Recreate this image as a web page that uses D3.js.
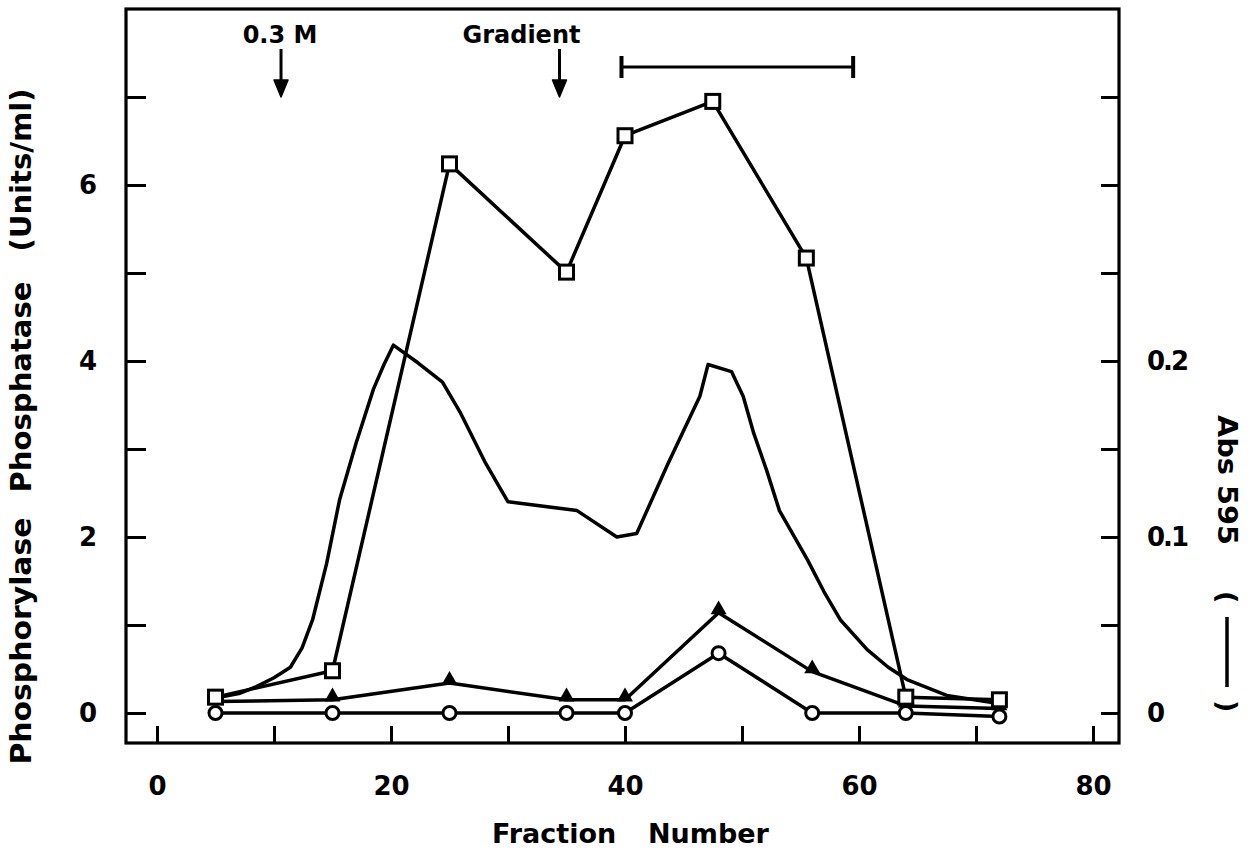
<!DOCTYPE html>
<html>
<head>
<meta charset="utf-8">
<script src="https://cdn.jsdelivr.net/npm/d3@7"></script>
<style>
  html, body { margin: 0; padding: 0; background: #fff; }
  svg text { font-family: "DejaVu Sans", "Liberation Sans", Arial, sans-serif; font-weight: bold; fill: #000; }
</style>
</head>
<body>
<svg id="chart" width="1251" height="856"></svg>
<script>
// Fractions sampled for phosphatase activity
const fractions = [5, 15, 25, 35, 40, 48, 56, 64, 72];
const squareFractions = [5, 15, 25, 35, 40, 47.5, 55.5, 64, 72];
// Phosphorylase phosphatase activity (Units/ml)
const squareValues = [0.18, 0.48, 6.24, 5.01, 6.56, 6.95, 5.17, 0.18, 0.15];
const triangleValues = [0.13, 0.15, 0.34, 0.15, 0.15, 1.14, 0.47, 0.08, 0.05];
const circleValues = [0.0, 0.0, 0.0, 0.0, 0.0, 0.68, 0.0, 0.0, -0.04];
// Protein profile, absorbance at 595 nm (continuous trace)
const absFractions = [5.0, 7.0, 8.5, 10.0, 11.4, 12.4, 13.3, 14.5, 15.6, 17.0, 18.5, 19.4, 20.2, 22.3, 24.4, 25.9, 28.0, 30.0, 35.9, 39.3, 41.0, 43.7, 46.4, 47.1, 49.1, 50.1, 51.0, 52.1, 53.2, 55.6, 57.0, 58.4, 60.7, 62.5, 64.1, 67.5, 71.8];
const absValues = [0.0085, 0.011, 0.015, 0.020, 0.026, 0.037, 0.053, 0.085, 0.121, 0.153, 0.184, 0.198, 0.209, 0.199, 0.188, 0.171, 0.143, 0.120, 0.115, 0.100, 0.102, 0.142, 0.180, 0.198, 0.194, 0.180, 0.159, 0.138, 0.115, 0.087, 0.069, 0.053, 0.036, 0.026, 0.019, 0.010, 0.0055];
// Axis ticks
const xTicks = [0, 10, 20, 30, 40, 50, 60, 70, 80];
const xTickLabels = ["0", "", "20", "", "40", "", "60", "", "80"];
const yTicks = [0, 1, 2, 3, 4, 5, 6, 7];
const yTickLabels = ["0", "", "2", "", "4", "", "6", ""];
const y2Ticks = [0, 0.05, 0.1, 0.15, 0.2, 0.25, 0.3, 0.35];
const y2TickLabels = ["0", "", "0.1", "", "0.2", "", "", ""];
// Annotations
const arrowNotes = [{ label: "0.3 M", at: 10.6 }, { label: "Gradient", at: 34.4 }];
const poolRange = [39.7, 59.5];

const svg = d3.select("#chart");
const frame = { left: 126, right: 1119, top: 9, bottom: 743 };

const x = d3.scaleLinear().domain([0, 80]).range([157, 1093]);
const y = d3.scaleLinear().domain([0, 8]).range([713, 9]);
const y2 = d3.scaleLinear().domain([0, 0.4]).range([713, 9]);

// frame
svg.append("rect")
  .attr("x", frame.left).attr("y", frame.top)
  .attr("width", frame.right - frame.left).attr("height", frame.bottom - frame.top)
  .attr("fill", "none").attr("stroke", "#000").attr("stroke-width", 3.2);

const fontSize = 26;

// bottom axis
const gx = svg.append("g").attr("transform", `translate(0,${frame.bottom})`)
  .call(d3.axisBottom(x).tickValues(xTicks).tickSizeInner(-17).tickSizeOuter(0)
    .tickPadding(0).tickFormat((d, i) => xTickLabels[i]));
gx.select(".domain").remove();
gx.selectAll("line").attr("stroke", "#000").attr("stroke-width", 3);
gx.selectAll("text").attr("font-size", fontSize).attr("dy", null).attr("y", 52).attr("font-family", null);

// left axis
const gy = svg.append("g").attr("transform", `translate(${frame.left},0)`)
  .call(d3.axisLeft(y).tickValues(yTicks).tickSizeInner(-20).tickSizeOuter(0)
    .tickFormat((d, i) => yTickLabels[i]));
gy.select(".domain").remove();
gy.selectAll("line").attr("stroke", "#000").attr("stroke-width", 3);
gy.selectAll("text").attr("font-size", fontSize).attr("x", -38).attr("text-anchor", "middle").attr("font-family", null);

// right axis
const gy2 = svg.append("g").attr("transform", `translate(${frame.right},0)`)
  .call(d3.axisRight(y2).tickValues(y2Ticks).tickSizeInner(-18).tickSizeOuter(0)
    .tickFormat((d, i) => y2TickLabels[i]));
gy2.select(".domain").remove();
gy2.selectAll("line").attr("stroke", "#000").attr("stroke-width", 3);
gy2.selectAll("text").attr("font-size", fontSize).attr("x", 28).attr("text-anchor", "start")
  .attr("letter-spacing", -2).attr("font-family", null);

// left axis title, three words set with equal type size
const leftTitle = [
  { text: "Phosphorylase", center: 641, len: 247 },
  { text: "Phosphatase", center: 387, len: 211 },
  { text: "(Units/ml)", center: 170, len: 163 }
];
leftTitle.forEach(t => {
  svg.append("text")
    .attr("transform", `translate(31,${t.center}) rotate(-90)`)
    .attr("text-anchor", "middle").attr("font-size", 28)
    .attr("textLength", t.len).attr("lengthAdjust", "spacingAndGlyphs")
    .text(t.text);
});

// bottom axis title
svg.append("text").attr("x", 492).attr("y", 843).attr("font-size", 27).text("Fraction");
svg.append("text").attr("x", 648).attr("y", 843).attr("font-size", 27).text("Number");

// right axis title
const rt = svg.append("g").attr("transform", "translate(1218,415) rotate(90)");
rt.append("text").attr("x", 0).attr("y", 0).attr("font-size", 27)
  .attr("textLength", 130).attr("lengthAdjust", "spacingAndGlyphs").text("Abs 595");
rt.append("text").attr("x", 176).attr("y", 0).attr("font-size", 27).text("(");
rt.append("text").attr("x", 285).attr("y", 0).attr("font-size", 27).text(")");
rt.append("line").attr("x1", 202).attr("x2", 272).attr("y1", -9).attr("y2", -9)
  .attr("stroke", "#000").attr("stroke-width", 3.5);

// protein trace
const absLine = d3.line().x(d => x(d[0])).y(d => y2(d[1])).curve(d3.curveLinear);
svg.append("path")
  .datum(absFractions.map((f, i) => [f, absValues[i]]))
  .attr("d", absLine).attr("fill", "none").attr("stroke", "#000")
  .attr("stroke-width", 3.5).attr("stroke-linejoin", "round");

const actLine = d3.line().x(d => x(d[0])).y(d => y(d[1]));
const squares = squareFractions.map((f, i) => [f, squareValues[i]]);
const triangles = fractions.map((f, i) => [f, triangleValues[i]]);
const circles = fractions.map((f, i) => [f, circleValues[i]]);

[circles, triangles, squares].forEach(s => {
  svg.append("path").datum(s).attr("d", actLine)
    .attr("fill", "none").attr("stroke", "#000").attr("stroke-width", 3.5)
    .attr("stroke-linejoin", "round");
});

// markers
svg.append("g").selectAll("circle").data(circles).join("circle")
  .attr("cx", d => x(d[0])).attr("cy", d => y(d[1])).attr("r", 6.5)
  .attr("fill", "#fff").attr("stroke", "#000").attr("stroke-width", 3);

const tri = d3.symbol().type(d3.symbolTriangle).size(110);
svg.append("g").selectAll("path").data(triangles).join("path")
  .attr("transform", d => `translate(${x(d[0])},${y(d[1]) - 3})`)
  .attr("d", tri).attr("fill", "#000");

svg.append("g").selectAll("rect").data(squares).join("rect")
  .attr("x", d => x(d[0]) - 7).attr("y", d => y(d[1]) - 7)
  .attr("width", 14).attr("height", 14)
  .attr("fill", "#fff").attr("stroke", "#000").attr("stroke-width", 3);

// arrows and labels at the top
arrowNotes.forEach((n, i) => {
  const ax = x(n.at);
  svg.append("text").attr("x", ax + (i === 0 ? -1 : -38)).attr("y", 43).attr("text-anchor", "middle")
    .attr("font-size", 24).text(n.label);
  svg.append("line").attr("x1", ax).attr("x2", ax).attr("y1", 49).attr("y2", 84)
    .attr("stroke", "#000").attr("stroke-width", 3);
  svg.append("path")
    .attr("d", `M${ax - 7},${80} L${ax + 7},${80} L${ax},${97} Z`)
    .attr("fill", "#000").attr("stroke", "#000").attr("stroke-width", 1.5)
    .attr("stroke-linejoin", "round");
});

// pooled fractions bar
const bx0 = x(poolRange[0]), bx1 = x(poolRange[1]);
svg.append("line").attr("x1", bx0).attr("x2", bx1).attr("y1", 67).attr("y2", 67)
  .attr("stroke", "#000").attr("stroke-width", 3);
[bx0, bx1].forEach(bx => svg.append("line").attr("x1", bx).attr("x2", bx)
  .attr("y1", 56).attr("y2", 78).attr("stroke", "#000").attr("stroke-width", 4));
</script>
</body>
</html>
